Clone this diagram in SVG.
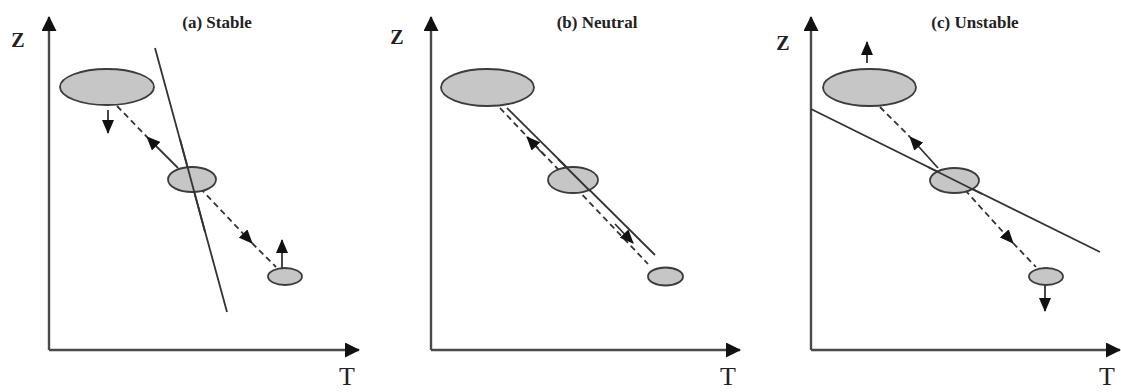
<svg xmlns="http://www.w3.org/2000/svg" width="1121" height="392" viewBox="0 0 1121 392">
<defs>
<style>
.axis{stroke:#4a4a4a;stroke-width:2.4;fill:none}
.line{stroke:#333;stroke-width:1.8;fill:none}
.dash{stroke:#333;stroke-width:1.8;fill:none;stroke-dasharray:6 4}
.parcel{fill:#c6c6c6;stroke:#3c3c3c;stroke-width:1.8}
.lbl{font-family:"Liberation Serif","Times New Roman",serif;fill:#222}
.z{font-size:20px;font-weight:bold;text-anchor:middle}
.t{font-size:26px;text-anchor:middle}
.title{font-family:"Liberation Serif","Times New Roman",serif;font-weight:bold;font-size:17px;fill:#222;text-anchor:middle}
</style>
<marker id="ax" viewBox="0 0 15 15" refX="14" refY="7.5" markerWidth="15" markerHeight="15" markerUnits="userSpaceOnUse" orient="auto">
<path d="M0,0 L15,7.5 L0,15 z" fill="#111"/>
</marker>
<marker id="ar" viewBox="0 0 14 12" refX="13" refY="6" markerWidth="14" markerHeight="12" markerUnits="userSpaceOnUse" orient="auto">
<path d="M0,0 L14,6 L0,12 z" fill="#111"/>
</marker>
</defs>
<rect width="1121" height="392" fill="#fff"/>

<!-- Panel (a) -->
<g id="panel-a">
<g id="axes-a">
<line class="axis" x1="49" y1="350" x2="49" y2="17" marker-end="url(#ax)"/>
<line class="axis" x1="49" y1="350" x2="359" y2="350" marker-end="url(#ax)"/>
<text class="lbl z" x="18" y="47">Z</text>
<text class="lbl t" x="347" y="385">T</text>
<text class="title" x="217" y="28">(a) Stable</text>
</g>
<g id="connectors-a">
<line class="line" x1="155" y1="48" x2="227" y2="312"/>
<line class="dash" x1="117" y1="106" x2="147" y2="137"/>
<line class="line" x1="178" y1="168" x2="147" y2="137" marker-end="url(#ar)"/>
<line class="dash" x1="200" y1="188" x2="252" y2="243" marker-end="url(#ar)"/>
<line class="dash" x1="252" y1="243" x2="276" y2="267"/>
<line class="line" x1="108" y1="110" x2="108" y2="133" marker-end="url(#ar)"/>
<line class="line" x1="282" y1="268" x2="282" y2="240" marker-end="url(#ar)"/>
</g>
<g id="parcel-a1"><ellipse class="parcel" cx="107" cy="87" rx="47" ry="18"/></g>
<g id="parcel-a2"><ellipse class="parcel" cx="192" cy="179.5" rx="24" ry="12.5"/></g>
<g id="parcel-a3"><ellipse class="parcel" cx="285" cy="276.5" rx="17" ry="8.5"/></g>
<line class="line" x1="180" y1="139" x2="205" y2="232"/>
</g>

<!-- Panel (b) -->
<g id="panel-b">
<g id="axes-b">
<line class="axis" x1="431" y1="350" x2="431" y2="17" marker-end="url(#ax)"/>
<line class="axis" x1="431" y1="350" x2="740" y2="350" marker-end="url(#ax)"/>
<text class="lbl z" x="397" y="44">Z</text>
<text class="lbl t" x="728" y="385">T</text>
<text class="title" x="597" y="28">(b) Neutral</text>
</g>
<g id="connectors-b">
<line class="line" x1="507" y1="108" x2="655" y2="255"/>
<line class="dash" x1="500" y1="108" x2="648" y2="264"/>
<line class="line" x1="545" y1="156" x2="527" y2="137" marker-end="url(#ar)"/>
<line class="line" x1="615" y1="224" x2="633" y2="243" marker-end="url(#ar)"/>
</g>
<g id="parcel-b1"><ellipse class="parcel" cx="487.5" cy="87.5" rx="46.5" ry="18.5"/></g>
<g id="parcel-b2"><ellipse class="parcel" cx="573" cy="180" rx="25" ry="13"/></g>
<g id="parcel-b3"><ellipse class="parcel" cx="665.5" cy="276.5" rx="17.5" ry="9"/></g>
<line class="line" x1="558" y1="159" x2="590" y2="191"/>
</g>

<!-- Panel (c) -->
<g id="panel-c">
<g id="axes-c">
<line class="axis" x1="811" y1="350" x2="811" y2="17" marker-end="url(#ax)"/>
<line class="axis" x1="811" y1="350" x2="1120" y2="350" marker-end="url(#ax)"/>
<text class="lbl z" x="783" y="50">Z</text>
<text class="lbl t" x="1107" y="385">T</text>
<text class="title" x="975" y="28">(c) Unstable</text>
</g>
<g id="connectors-c">
<line class="line" x1="811" y1="109" x2="1100" y2="252"/>
<line class="dash" x1="880" y1="107" x2="910" y2="137"/>
<line class="line" x1="938" y1="168" x2="910" y2="137" marker-end="url(#ar)"/>
<line class="dash" x1="965" y1="190" x2="1013" y2="243" marker-end="url(#ar)"/>
<line class="dash" x1="1013" y1="243" x2="1036" y2="267"/>
<line class="line" x1="867" y1="63" x2="867" y2="42" marker-end="url(#ar)"/>
<line class="line" x1="1045" y1="285" x2="1045" y2="311" marker-end="url(#ar)"/>
</g>
<g id="parcel-c1"><ellipse class="parcel" cx="869.5" cy="87.5" rx="46.5" ry="18.5"/></g>
<g id="parcel-c2"><ellipse class="parcel" cx="954.5" cy="180.5" rx="24.5" ry="12.5"/></g>
<g id="parcel-c3"><ellipse class="parcel" cx="1046" cy="276.5" rx="17" ry="8.5"/></g>
<line class="line" x1="928" y1="167" x2="982" y2="194"/>
</g>
</svg>
